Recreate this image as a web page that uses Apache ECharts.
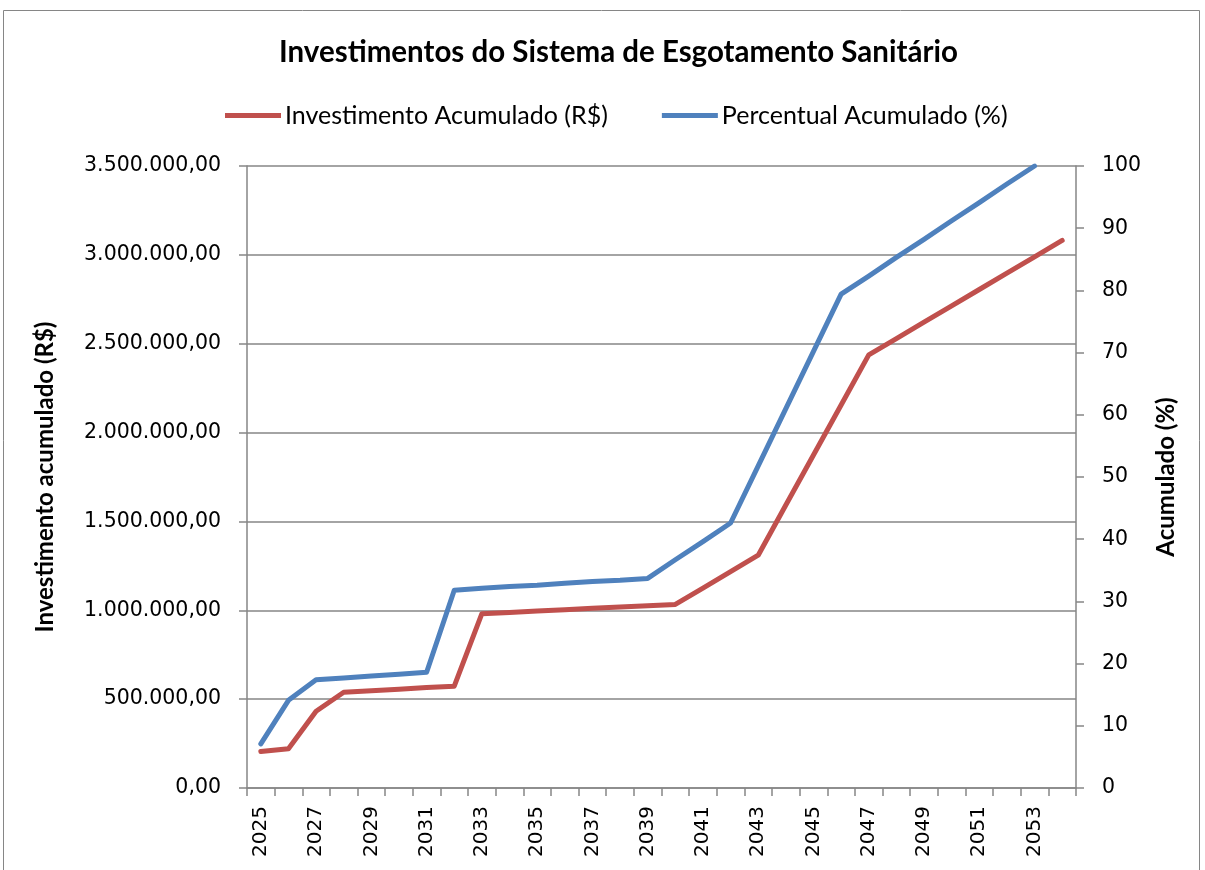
<!DOCTYPE html>
<html>
<head>
<meta charset="utf-8">
<script src="https://cdn.jsdelivr.net/npm/echarts@6/dist/echarts.min.js"></script>
<style>
    html, body { margin: 0; padding: 0; background: #fff; }
    #chart { width: 1205px; height: 870px; }
</style>
</head>
<body>
<div id="chart"></div>
<script>
// anos 2025..2054
const anos = ['2025', '2026', '2027', '2028', '2029', '2030', '2031', '2032', '2033', '2034',
    '2035', '2036', '2037', '2038', '2039', '2040', '2041', '2042', '2043', '2044',
    '2045', '2046', '2047', '2048', '2049', '2050', '2051', '2052', '2053', '2054']

// Investimento acumulado (R$)
const investimento = [206000, 221000, 432000, 539000, 547000, 556000, 565000, 573000, 981000, 988000,
    996000, 1003000, 1011000, 1018000, 1026000, 1033000, 1125000, 1218000, 1310000, 1592000,
    1874000, 2155000, 2437000, 2529000, 2621000, 2713000, 2805000, 2897000, 2989000, 3081000]

// Percentual acumulado (%)
const percentual = [7.1, 14.1, 17.4, 17.7, 18.0, 18.3, 18.6, 31.8, 32.1, 32.4,
    32.6, 32.9, 33.2, 33.4, 33.7, 36.7, 39.6, 42.6, 51.8, 61.0,
    70.2, 79.4, 82.3, 85.3, 88.2, 91.2, 94.1, 97.1, 100, null]

const fonte = 'DejaVu Sans'   // rótulos dos eixos
const fonteTexto = 'Lato'     // título, legenda e nomes dos eixos
const cinza = '#868686'

// 3500000 -> 3.500.000,00
function formatoBR(v) {
    let partes = v.toFixed(2).split('.')
    let inteiro = partes[0].replace(/\B(?=(\d{3})+(?!\d))/g, '.')
    return inteiro + ',' + partes[1]
}

let mychart = echarts.init(document.getElementById('chart'))
let option = {
    backgroundColor: '#fff',
    textStyle: { fontFamily: fonte },
    graphic: [{
        type: 'rect',
        shape: { x: 3.5, y: 10.5, width: 1196, height: 880 },
        style: { fill: 'none', stroke: cinza, lineWidth: 1 },
        silent: true
    }],
    title: {
        text: 'Investimentos do Sistema de Esgotamento Sanitário',
        left: 274,
        top: 32,
        textStyle: { fontFamily: fonteTexto, fontSize: 29.5, fontWeight: 'bold', color: '#000' }
    },
    legend: {
        top: 98,
        left: 220,
        itemWidth: 56,
        itemHeight: 5,
        itemGap: 54,
        icon: 'rect',
        textStyle: { fontFamily: fonteTexto, fontSize: 25, color: '#000', padding: [0, 0, 0, -1] },
        data: ['Investimento Acumulado (R$)', 'Percentual Acumulado (%)']
    },
    grid: {
        left: 247,
        right: 129,
        top: 166,
        bottom: 82
    },
    xAxis: {
        type: 'category',
        data: anos,
        boundaryGap: true,
        axisLine: { lineStyle: { color: cinza, width: 1.5 } },
        axisTick: { show: true, interval: 0, length: 8, lineStyle: { color: cinza, width: 1.5 } },
        axisLabel: {
            interval: 1,
            rotate: 90,
            margin: 18,
            fontFamily: fonte,
            fontSize: 20,
            color: '#000'
        },
        splitLine: { show: false }
    },
    yAxis: [
        {
            type: 'value',
            min: 0,
            max: 3500000,
            interval: 500000,
            name: 'Investimento acumulado (R$)',
            nameLocation: 'middle',
            nameGap: 190,
            nameTextStyle: { fontFamily: fonteTexto, fontSize: 24, fontWeight: 'bold', color: '#000' },
            axisLine: { show: true, lineStyle: { color: cinza, width: 1.5 } },
            axisTick: { show: true, length: 8, lineStyle: { color: cinza, width: 1.5 } },
            axisLabel: {
                margin: 26,
                fontFamily: fonte,
                fontSize: 20.5,
                color: '#000',
                formatter: formatoBR
            },
            splitLine: { show: true, lineStyle: { color: cinza, width: 1.5 } }
        },
        {
            type: 'value',
            min: 0,
            max: 100,
            interval: 10,
            position: 'right',
            name: 'Acumulado (%)',
            nameLocation: 'middle',
            nameGap: 78,
            nameTextStyle: { fontFamily: fonteTexto, fontSize: 24, fontWeight: 'bold', color: '#000' },
            axisLine: { show: true, lineStyle: { color: cinza, width: 1.5 } },
            axisTick: { show: true, length: 8, lineStyle: { color: cinza, width: 1.5 } },
            axisLabel: { margin: 26, fontFamily: fonte, fontSize: 20.5, color: '#000' },
            splitLine: { show: false }
        }
    ],
    series: [
        {
            name: 'Investimento Acumulado (R$)',
            type: 'line',
            yAxisIndex: 0,
            symbol: 'none',
            color: '#C0504D',
            lineStyle: { color: '#C0504D', width: 5, cap: 'round', join: 'round' },
            data: investimento
        },
        {
            name: 'Percentual Acumulado (%)',
            type: 'line',
            yAxisIndex: 1,
            symbol: 'none',
            color: '#4F81BD',
            lineStyle: { color: '#4F81BD', width: 5, cap: 'round', join: 'round' },
            data: percentual
        }
    ]
}
mychart.setOption(option)
window.addEventListener('resize', function () {
    mychart.resize()
})
</script>
</body>
</html>
